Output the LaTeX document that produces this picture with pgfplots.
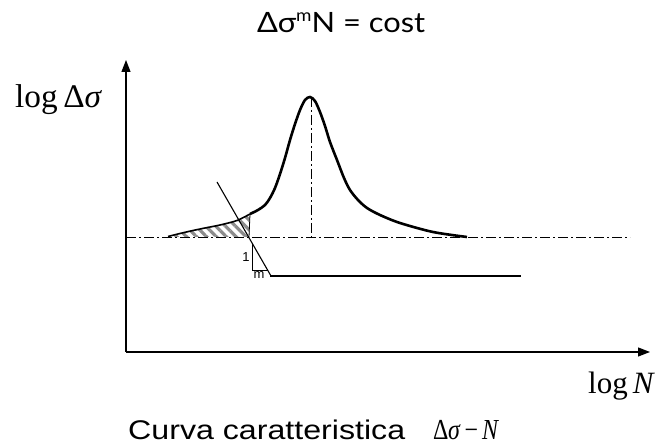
\documentclass[border=0pt]{standalone}
\usepackage{pgfplots}
\pgfplotsset{compat=1.18}
\usepackage{fontspec}
\setmainfont{Liberation Serif}
\newfontfamily\titlefont{Lato}
\newfontfamily\arialfont{Liberation Sans}
\usetikzlibrary{arrows.meta,patterns.meta}
\definecolor{hatchgray}{RGB}{140,140,140}
\begin{document}
\begin{tikzpicture}
\begin{axis}[
  scale only axis, width=660pt, height=446pt,
  xmin=0, xmax=660, ymin=0, ymax=446,
  hide axis, clip=false,
]
% invisible frame for bounding box
\addplot[draw=none] coordinates {(0,0) (660,446)};
% hatched area
\addplot[draw=none, pattern={Lines[angle=-45,distance=7pt,line width=3.2pt]}, pattern color=hatchgray]
  coordinates {(168,209.5) (180,212.5) (193,215.5) (205,218) (220,221) (237,225.5) (250,232) (249,209) (168,209)} -- cycle;
% axes
\addplot[line width=1.2pt, -{Triangle[length=12pt,width=9pt]}] coordinates {(126,94) (126,386)};
\addplot[line width=1.2pt, -{Triangle[length=12pt,width=9pt]}] coordinates {(126,94) (650,94)};
% dash-dot lines
\addplot[line width=0.9pt, dash pattern=on 10pt off 3pt on 2pt off 3pt] coordinates {(126,209) (630,209)};
\addplot[line width=0.9pt, dash pattern=on 10pt off 3pt on 2pt off 3pt] coordinates {(311,349) (311,209)};
% tail (thin)
\addplot[line width=1.6pt, smooth] coordinates {(168,209.5) (180,212.5) (193,215.5) (205,218) (220,221) (237,225.5) (250,232)};
% right edge of hatch
\addplot[line width=0.8pt] coordinates {(250,232) (249,209)};
% main curve
\addplot[line width=2.6pt, smooth, tension=0.5] coordinates {
(250,232) (258,236) (265,241) (270,248) (275,258) (280,272) (285,288) (290,306) (295,322) (300,336) (305,346) (310,349) (315,345) (320,334) (325,320) (330,304) (337,286) (344,268) (350,256) (358,246) (367,238) (380,231) (400,223) (433,214) (467,209)};
% tangent line
\addplot[line width=1.1pt] coordinates {(217,264) (271,170)};
% slope triangle
\addplot[line width=0.8pt] coordinates {(252.7,202) (252.7,176) (267.6,176)};
% lower thick line
\addplot[line width=2pt] coordinates {(270,170) (521,170)};
% labels
\node[anchor=center, inner sep=0] at (axis cs:246,189) {\arialfont\fontsize{13}{13}\selectfont 1};
\node[anchor=center, inner sep=0] at (axis cs:259,171) {\arialfont\fontsize{13}{13}\selectfont m};
\node[anchor=base west, inner sep=0] at (axis cs:257,413) {\resizebox{168pt}{\height}{\titlefont\fontsize{28}{28}\selectfont Δσ\raisebox{0.42em}{\fontsize{17}{17}\selectfont m}N = cost}};
\node[anchor=base west, inner sep=0] at (axis cs:15,338) {\resizebox{87pt}{\height}{\fontsize{33}{33}\selectfont log\,Δ\textit{σ}}};
\node[anchor=base west, inner sep=0] at (axis cs:588,52) {\fontsize{31}{31}\selectfont log\,\textit{N}};
\node[anchor=base west, inner sep=0] at (axis cs:128,6) {\resizebox{277pt}{\height}{\arialfont\fontsize{27}{27}\selectfont Curva caratteristica}};
\node[anchor=base west, inner sep=0] at (axis cs:433,6) {\resizebox{66pt}{\height}{\fontsize{29}{29}\selectfont Δ\kern-0.5pt\textit{σ}\,−\,\textit{N}}};
\end{axis}
\end{tikzpicture}
\end{document}
